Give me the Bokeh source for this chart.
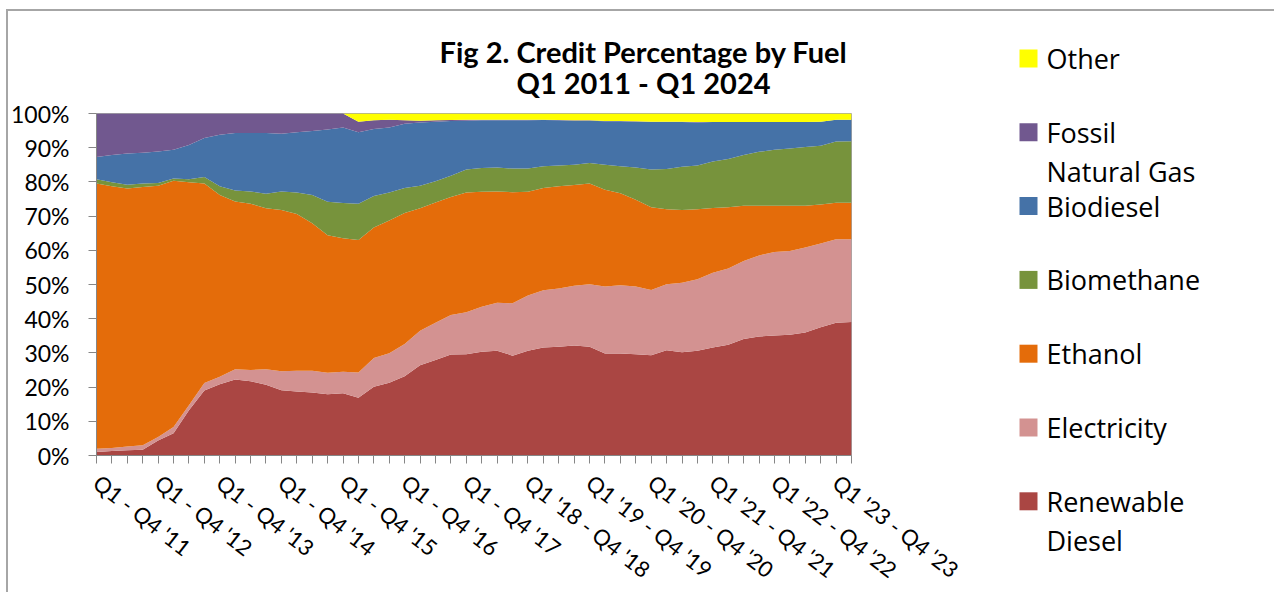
from bokeh.plotting import figure
from bokeh.models import (ColumnDataSource, Range1d, FixedTicker, PrintfTickFormatter,
                          Label, Row, Column)
from bokeh.core.properties import value
from bokeh.embed import file_html
from bokeh.resources import INLINE

# ---- data (percent of credits, quarterly from Q1 2011) ----
year_labels = ["Q1 - Q4 '11", "Q1 - Q4 '12", "Q1 - Q4 '13", "Q1 - Q4 '14", "Q1 - Q4 '15",
               "Q1 - Q4 '16", "Q1 - Q4 '17", "Q1 '18 - Q4 '18", "Q1 '19 - Q4 '19",
               "Q1 '20 - Q4 '20", "Q1 '21 - Q4 '21", "Q1 '22 - Q4 '22", "Q1 '23 - Q4 '23"]

renewable_diesel = [1.0, 1.3, 1.5, 1.7, 4.4, 6.5, 13.2, 19.0, 20.8, 22.2,
                    21.7, 20.7, 19.1, 18.7, 18.4, 17.9, 18.2, 16.9, 20.1, 21.3,
                    23.2, 26.4, 27.9, 29.5, 29.6, 30.3, 30.6, 29.2, 30.6, 31.6,
                    31.8, 32.2, 31.8, 29.8, 29.8, 29.6, 29.3, 30.8, 30.2, 30.6,
                    31.6, 32.4, 34.1, 34.8, 35.1, 35.3, 36.0, 37.5, 38.8, 39.0]
electricity = [1.0, 0.9, 1.1, 1.3, 1.0, 1.8, 1.5, 2.2, 2.2, 3.0,
               3.3, 4.5, 5.5, 6.1, 6.4, 6.3, 6.3, 7.4, 8.4, 8.6,
               9.4, 10.1, 10.9, 11.6, 12.3, 13.2, 14.1, 15.3, 16.2, 16.7,
               17.0, 17.4, 18.3, 19.6, 20.0, 19.8, 19.1, 19.3, 20.3, 20.9,
               21.8, 22.3, 22.8, 23.7, 24.4, 24.5, 24.8, 24.5, 24.4, 24.2]
ethanol = [77.5, 76.5, 75.5, 75.5, 73.5, 72.0, 65.2, 58.3, 53.2, 49.1,
           48.6, 47.1, 47.2, 45.8, 43.1, 40.2, 39.0, 38.7, 38.2, 38.8,
           38.3, 35.8, 35.2, 34.5, 35.0, 33.6, 32.5, 32.5, 30.3, 29.9,
           29.9, 29.5, 29.4, 28.3, 26.9, 25.4, 24.2, 21.9, 21.3, 20.5,
           19.0, 17.9, 16.1, 14.5, 13.5, 13.2, 12.2, 11.4, 10.7, 10.7]
biomethane = [1.3, 1.2, 1.1, 1.0, 0.8, 0.7, 0.9, 1.9, 2.5, 3.2,
              3.6, 4.2, 5.4, 6.3, 8.3, 9.8, 10.3, 10.6, 9.2, 8.2,
              7.3, 6.6, 6.2, 6.2, 6.7, 7.0, 7.0, 6.9, 6.8, 6.4,
              6.1, 5.9, 6.0, 7.3, 7.9, 9.4, 11.0, 11.8, 12.6, 12.8,
              13.6, 14.1, 14.9, 15.8, 16.4, 16.8, 17.2, 17.2, 17.9, 18.0]
biodiesel = [6.5, 8.0, 9.1, 9.0, 9.2, 8.4, 10.0, 11.4, 15.1, 16.8,
             17.1, 17.8, 16.9, 17.6, 18.7, 21.1, 22.1, 20.9, 19.6, 19.0,
             18.8, 18.5, 17.4, 16.0, 14.3, 13.9, 13.8, 14.1, 14.1, 13.5,
             13.2, 12.9, 12.4, 12.7, 13.1, 13.4, 13.9, 13.7, 13.1, 12.6,
             11.5, 10.8, 9.6, 8.7, 8.1, 7.7, 7.3, 7.0, 6.4, 6.3]
fossil_natural_gas = [12.7, 12.1, 11.7, 11.5, 11.1, 10.6, 9.2, 7.2, 6.2, 5.7,
                      5.7, 5.7, 5.9, 5.5, 5.1, 4.7, 4.1, 3.1, 2.5, 2.3,
                      1.0, 0.5, 0.4, 0.3, 0.3, 0.2, 0.2, 0.2, 0.2, 0.1,
                      0.1, 0.1, 0.1, 0.1, 0.1, 0.1, 0.1, 0.1, 0.1, 0.1,
                      0.0, 0.0, 0.0, 0.0, 0.0, 0.0, 0.0, 0.0, 0.0, 0.0]
other = [0.0, 0.0, 0.0, 0.0, 0.0, 0.0, 0.0, 0.0, 0.0, 0.0,
         0.0, 0.0, 0.0, 0.0, 0.0, 0.0, 0.0, 2.4, 2.0, 1.8,
         2.0, 2.1, 2.0, 1.9, 1.8, 1.8, 1.8, 1.8, 1.8, 1.8,
         1.9, 2.0, 2.0, 2.2, 2.2, 2.3, 2.4, 2.4, 2.4, 2.5,
         2.5, 2.5, 2.5, 2.5, 2.5, 2.5, 2.5, 2.4, 1.8, 1.8]

stack_cols = ["renewable_diesel", "electricity", "ethanol", "biomethane",
              "biodiesel", "fossil_natural_gas", "other"]
# legend entries, top to bottom (as in the reference), with wrapped names
legend_names = [("Other", ""), ("Fossil", "Natural Gas"), ("Biodiesel", ""),
                ("Biomethane", ""), ("Ethanol", ""), ("Electricity", ""),
                ("Renewable", "Diesel")]
colors = ["#AA4643", "#D39291", "#E46C0A", "#77933C", "#4572A7", "#71588F", "#FFFF00"]

quarter_index = list(range(len(renewable_diesel)))
src = ColumnDataSource(dict(
    q=quarter_index,
    renewable_diesel=renewable_diesel, electricity=electricity, ethanol=ethanol,
    biomethane=biomethane, biodiesel=biodiesel, fossil_natural_gas=fossil_natural_gas,
    other=other,
))

H = 579          # total canvas height
TITLE_H = 88     # title strip height
MAIN_W = 1000
LEG_W = 266

# ---------------- title strip ----------------
pt = figure(width=MAIN_W, height=TITLE_H, output_backend="svg", toolbar_location=None,
            x_range=Range1d(0, 1), y_range=Range1d(0, 1), x_axis_type=None,
            y_axis_type=None, min_border=0, outline_line_color=None,
            frame_align=False)
pt.xgrid.visible = False
pt.ygrid.visible = False
for txt, yy in (("Fig 2. Credit Percentage by Fuel", 48), ("Q1 2011 - Q1 2024", 17)):
    pt.add_layout(Label(x=635, y=yy, x_units="screen", y_units="screen", text=txt,
                        text_align="center", text_baseline="alphabetic",
                        text_font="Lato", text_font_style="bold",
                        text_font_size="29px", text_color="black"))

# ---------------- main chart ----------------
p = figure(frame_width=755, frame_height=342, output_backend="svg", toolbar_location=None,
           x_range=Range1d(0, len(quarter_index) - 1), y_range=Range1d(0, 100),
           min_border_left=88, min_border_right=MAIN_W - 88 - 755,
           min_border_top=14, min_border_bottom=H - TITLE_H - 14 - 342,
           background_fill_color="white", border_fill_color="white",
           outline_line_color="#a6a6a6", outline_line_width=1, frame_align=False)
p.xgrid.visible = False
p.ygrid.visible = False

renderers = p.varea_stack(stackers=stack_cols, x="q", color=colors, source=src)

axis_col = "#868686"
for ax in (p.xaxis[0], p.yaxis[0]):
    ax.axis_line_color = axis_col
    ax.major_tick_line_color = axis_col
    ax.minor_tick_line_color = None
    ax.major_tick_in = 0
    ax.major_tick_out = 8
    ax.major_label_text_font = "Lato"
    ax.major_label_text_color = "black"

p.yaxis.ticker = FixedTicker(ticks=list(range(0, 101, 10)))
p.yaxis.formatter = PrintfTickFormatter(format="%d%%")
p.yaxis.major_label_text_font_size = "23px"
p.yaxis.major_label_standoff = 19

p.xaxis.ticker = FixedTicker(ticks=quarter_index)
overrides = {i: "" for i in quarter_index}
for k, lab in enumerate(year_labels):
    overrides[4 * k] = lab
p.xaxis.major_label_overrides = overrides
p.xaxis.major_label_orientation = -0.66
p.xaxis.major_label_text_font_size = "22px"
p.xaxis.major_label_standoff = 16

# ---------------- legend panel (pixel coordinates, y downwards) ----------------
pl = figure(width=LEG_W, height=H, output_backend="svg", toolbar_location=None,
            x_range=Range1d(0, LEG_W), y_range=Range1d(H, 0),
            x_axis_type=None, y_axis_type=None, min_border=0,
            outline_line_color=None, background_fill_color="white",
            border_fill_color="white", frame_align=False)
pl.xgrid.visible = False
pl.ygrid.visible = False

row0, pitch = 47, 73.8
leg_colors = list(reversed(colors))
ys = [row0 + pitch * k for k in range(len(legend_names))]
pl.rect(x=[20] * len(ys), y=ys, width=18, height=18, fill_color=leg_colors,
        line_color=None)
pl.text(x=[38] * len(ys), y=ys, text=[n[0] for n in legend_names],
        text_font=value("Open Sans"), text_font_size="27px", text_color="black",
        text_baseline="middle", text_align="left")
second = [(y + 39, n[1]) for y, n in zip(ys, legend_names) if n[1]]
pl.text(x=[38] * len(second), y=[s[0] for s in second], text=[s[1] for s in second],
        text_font=value("Open Sans"), text_font_size="27px", text_color="black",
        text_baseline="middle", text_align="left")

layout = Row(children=[Column(children=[pt, p], spacing=0), pl], spacing=0,
             styles={"margin-left": "6px", "margin-top": "9px",
                     "border-left": "2px solid #a6a6a6",
                     "border-top": "2px solid #a6a6a6"})

open("out.html", "w").write(file_html(layout, INLINE))
